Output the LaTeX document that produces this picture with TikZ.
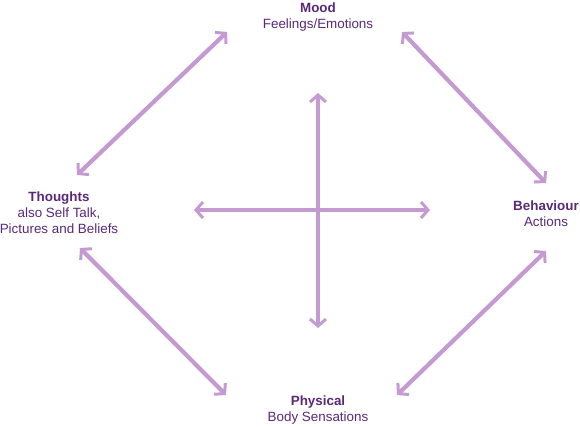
\documentclass[tikz,border=0pt]{standalone}
\usepackage{fontspec}
\setmainfont{Liberation Sans}
\usetikzlibrary{arrows.meta}
\definecolor{plum}{RGB}{88,40,122}
\definecolor{lilac}{RGB}{196,154,210}

\begin{document}
\begin{tikzpicture}[x=1pt, y=-1pt,
    label/.style={align=center, text=plum, inner sep=0pt,
      font=\fontsize{13.4}{16}\selectfont},
    link/.style={line width=4.2pt, draw=lilac, {Straight Barb[length=7pt, width=16pt, line width=3pt]}-{Straight Barb[length=7pt, width=16pt, line width=3pt]}}]
  \useasboundingbox (0,0) rectangle (580,427);

  % areas
  \node[label] (mood) at (318,17) {\textbf{Mood}\\Feelings/Emotions};
  \node[label] (thoughts) at (59,213) {\textbf{Thoughts}\\also Self Talk,\\Pictures and Beliefs};
  \node[label] (behaviour) at (546,214) {\textbf{Behaviour}\\Actions};
  \node[label] (physical) at (318,410) {\textbf{Physical}\\Body Sensations};

  % arrow ends
  \coordinate (mt1) at (227,32);  \coordinate (mt2) at (77,175);
  \coordinate (mb1) at (402,32);  \coordinate (mb2) at (546,183);
  \coordinate (tp1) at (80,248);  \coordinate (tp2) at (226,395);
  \coordinate (pb1) at (397,395); \coordinate (pb2) at (546,251);
  \coordinate (up) at (318,93);   \coordinate (down) at (318,328);
  \coordinate (left) at (194,210); \coordinate (right) at (430,210);

  \draw[link] (mt1) -- (mt2);
  \draw[link] (mb1) -- (mb2);
  \draw[link] (tp1) -- (tp2);
  \draw[link] (pb1) -- (pb2);
  \draw[link] (up) -- (down);
  \draw[link] (left) -- (right);
\end{tikzpicture}
\end{document}
